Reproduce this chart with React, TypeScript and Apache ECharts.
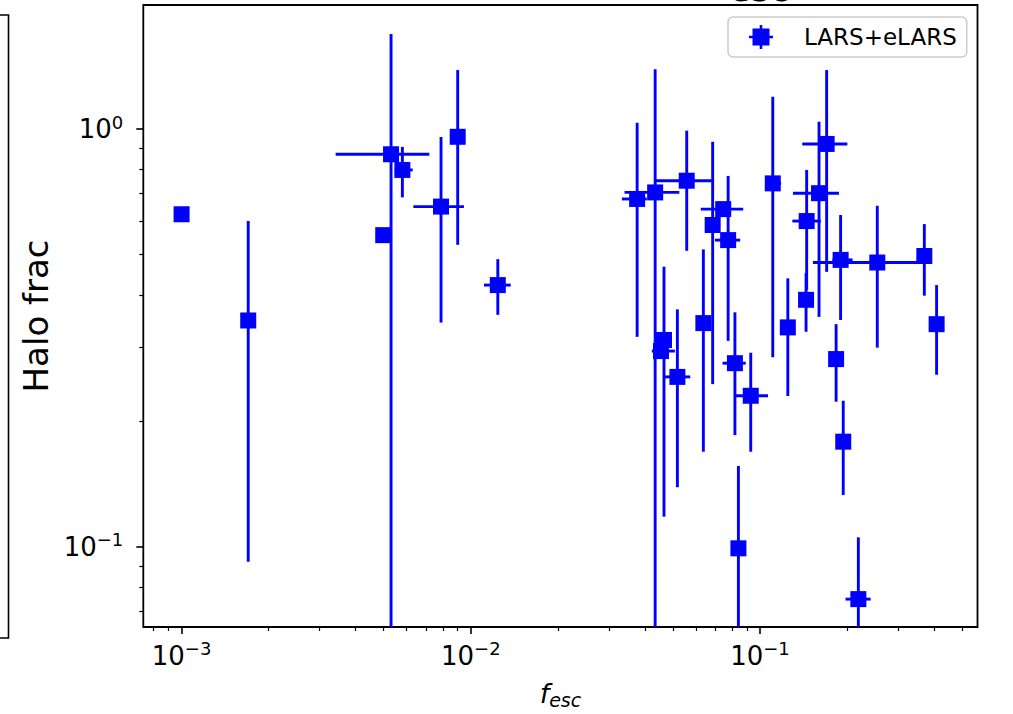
import React, { useEffect, useRef } from 'react';
import * as echarts from 'echarts';

// ---- data ----
const fesc = [
  0.001, 0.0017, 0.00498, 0.0053, 0.0058, 0.00789, 0.00901, 0.0124,
  0.0376, 0.0434, 0.0558, 0.0746, 0.0686, 0.0776, 0.1107, 0.17, 0.16,
  0.145, 0.1443, 0.19, 0.2544, 0.37, 0.408, 0.04656, 0.04546, 0.0518,
  0.0637, 0.0819, 0.0929, 0.0842, 0.1248, 0.1833, 0.194, 0.2188,
];
const haloFrac = [
  0.625, 0.348, 0.557, 0.87, 0.798, 0.652, 0.958, 0.423,
  0.68, 0.705, 0.752, 0.643, 0.589, 0.542, 0.741, 0.921, 0.702,
  0.602, 0.39, 0.486, 0.479, 0.4965, 0.341, 0.3125, 0.294, 0.255,
  0.343, 0.275, 0.2298, 0.0991, 0.335, 0.2813, 0.1784, 0.0749,
];
const fescLow = [
  null, null, null, 0.00341, 0.00546, 0.00633, null, 0.01111,
  0.0333, 0.034, 0.0434, 0.0624, 0.0646, 0.0699, 0.105, 0.14, 0.13,
  0.1294, null, 0.178, 0.1524, null, null, null, 0.04225, 0.0463,
  null, 0.0742, 0.0822, null, null, null, null, 0.1976,
];
const fescHigh = [
  null, null, null, 0.00719, 0.0063, 0.00947, null, 0.01374,
  0.0406, 0.0526, 0.0681, 0.0875, 0.0728, 0.0854, 0.1183, 0.2005, 0.1875,
  0.1622, null, 0.209, 0.366, null, null, null, 0.0508, 0.0574,
  null, 0.0893, 0.1066, null, null, null, null, 0.2413,
];
const haloLow = [
  null, 0.092, null, 0.01, 0.686, 0.344, 0.528, 0.359,
  0.318, 0.01, 0.511, null, 0.245, 0.311, 0.284, 0.455, 0.355,
  0.412, 0.327, 0.349, 0.2996, 0.399, 0.258, 0.118, null, 0.1388,
  0.1688, 0.185, 0.1688, 0.01, 0.2295, 0.2224, 0.133, 0.01,
];
const haloHigh = [
  null, 0.602, null, 1.688, 0.906, 0.957, 1.384, 0.488,
  1.035, 1.39, 0.991, null, 0.932, 0.772, 1.195, 1.384, 1.041,
  0.798, 0.452, 0.6225, 0.655, 0.592, 0.423, 0.468, null, 0.37,
  0.515, 0.364, 0.2913, 0.156, 0.439, 0.341, 0.2236, 0.1053,
];

const xMajorTicks = [0.001, 0.01, 0.1];
const xMinorTicks = [
  0.0008, 0.0009,
  0.002, 0.003, 0.004, 0.005, 0.006, 0.007, 0.008, 0.009,
  0.02, 0.03, 0.04, 0.05, 0.06, 0.07, 0.08, 0.09,
  0.2, 0.3, 0.4, 0.5,
];
const yMajorTicks = [0.1, 1];
const yMinorTicks = [0.07, 0.08, 0.09, 0.2, 0.3, 0.4, 0.5, 0.6, 0.7, 0.8, 0.9];

const X_MIN = 7.373e-4;
const X_MAX = 0.565;
const Y_MIN = 0.06423;
const Y_MAX = 1.981;

const SERIES_NAME = 'LARS+eLARS';
const BLUE = '#0000ff';
const FONT = 'DejaVu Sans';

const legendIcon =
  'path://M3.5 3.5 H10.7 V0 H13.3 V3.5 H20.5 V10.7 H24 V13.3 H20.5 V20.5 H13.3 V24 H10.7 V20.5 H3.5 V13.3 H0 V10.7 H3.5 Z';

function powLabel(v: number): string {
  const e = Math.round(Math.log10(v));
  const s = e < 0 ? '\u2212' + String(-e) : String(e);
  return '{b|10}{s|' + s + '}';
}

const tickRich = {
  b: { fontSize: 26, lineHeight: 32, fontFamily: FONT, color: '#000' },
  s: { fontSize: 18, lineHeight: 19, verticalAlign: 'top', fontFamily: FONT, color: '#000' },
};

export default function App() {
  const ref = useRef<HTMLDivElement>(null);

  useEffect(() => {
    if (!ref.current) return;
    const chart = echarts.init(ref.current, null, { renderer: 'svg' });

    const points = fesc.map((x, i) => [x, haloFrac[i]]);

    const option: any = {
      animation: false,
      backgroundColor: '#ffffff',
      textStyle: { fontFamily: FONT },
      grid: {
        left: 143.3,
        right: 35.5,
        top: 5,
        bottom: 87,
        show: true,
        borderColor: '#000',
        borderWidth: 1.8,
        containLabel: false,
        outerBoundsMode: 'none',
      },
      legend: {
        show: true,
        data: [{ name: SERIES_NAME, icon: legendIcon }],
        left: 728,
        top: 17,
        orient: 'horizontal',
        itemWidth: 24,
        itemHeight: 24,
        padding: [8, 10, 8, 21],
        backgroundColor: 'rgba(255,255,255,0.8)',
        borderColor: '#cccccc',
        borderWidth: 1.5,
        borderRadius: 5,
        selectedMode: false,
        textStyle: {
          fontSize: 23,
          fontFamily: FONT,
          color: '#000',
          padding: [0, 0, 0, 26],
        },
      },
      xAxis: [
        {
          type: 'log',
          logBase: 10,
          min: X_MIN,
          max: X_MAX,
          position: 'bottom',
          axisLine: { show: false },
          splitLine: { show: false },
          axisTick: {
            show: true,
            inside: false,
            length: 7,
            lineStyle: { color: '#000', width: 1.6 },
            customValues: xMajorTicks,
          },
          axisLabel: {
            show: true,
            margin: 12.5,
            customValues: xMajorTicks,
            formatter: (v: number) => powLabel(v),
            rich: tickRich,
          },
          name: '{i|f}{sub|esc}',
          nameLocation: 'middle',
          nameGap: 50,
          nameTextStyle: {
            rich: {
              i: { fontSize: 27, fontStyle: 'italic', lineHeight: 32, fontFamily: FONT, color: '#000' },
              sub: { fontSize: 19, fontStyle: 'italic', lineHeight: 15, verticalAlign: 'bottom', fontFamily: FONT, color: '#000' },
            },
          },
        },
        {
          type: 'log',
          logBase: 10,
          min: X_MIN,
          max: X_MAX,
          position: 'bottom',
          offset: 0,
          axisLine: { show: false },
          splitLine: { show: false },
          axisLabel: { show: false },
          axisTick: {
            show: true,
            inside: false,
            length: 4,
            lineStyle: { color: '#000', width: 1.2 },
            customValues: xMinorTicks,
          },
        },
      ],
      yAxis: [
        {
          type: 'log',
          logBase: 10,
          min: Y_MIN,
          max: Y_MAX,
          position: 'left',
          axisLine: { show: false },
          splitLine: { show: false },
          axisTick: {
            show: true,
            inside: false,
            length: 7,
            lineStyle: { color: '#000', width: 1.6 },
            customValues: yMajorTicks,
          },
          axisLabel: {
            show: true,
            margin: 20,
            customValues: yMajorTicks,
            formatter: (v: number) => powLabel(v),
            rich: tickRich,
          },
          name: 'Halo frac',
          nameLocation: 'middle',
          nameGap: 86,
          nameTextStyle: { fontSize: 34, fontFamily: FONT, color: '#000' },
        },
        {
          type: 'log',
          logBase: 10,
          min: Y_MIN,
          max: Y_MAX,
          position: 'left',
          offset: 0,
          axisLine: { show: false },
          splitLine: { show: false },
          axisLabel: { show: false },
          axisTick: {
            show: true,
            inside: false,
            length: 4,
            lineStyle: { color: '#000', width: 1.2 },
            customValues: yMinorTicks,
          },
        },
      ],
      series: [
        {
          type: 'custom',
          name: 'errors',
          xAxisIndex: 0,
          yAxisIndex: 0,
          z: 2,
          clip: true,
          data: points,
          encode: { x: 0, y: 1 },
          renderItem: (params: any, api: any) => {
            const i = params.dataIndex;
            const cs = params.coordSys;
            const top = cs.y;
            const bottom = cs.y + cs.height;
            const left = cs.x;
            const right = cs.x + cs.width;
            const style = { stroke: BLUE, lineWidth: 2.9, lineCap: 'butt' };
            const children: any[] = [];
            const lo = haloLow[i];
            const hi = haloHigh[i];
            if (lo != null && hi != null) {
              const p1 = api.coord([fesc[i], lo]);
              const p2 = api.coord([fesc[i], hi]);
              children.push({
                type: 'line',
                shape: {
                  x1: p1[0],
                  y1: Math.min(Math.max(p1[1], top), bottom),
                  x2: p2[0],
                  y2: Math.min(Math.max(p2[1], top), bottom),
                },
                style,
              });
            }
            const xl = fescLow[i];
            const xh = fescHigh[i];
            if (xl != null && xh != null) {
              const p1 = api.coord([xl, haloFrac[i]]);
              const p2 = api.coord([xh, haloFrac[i]]);
              children.push({
                type: 'line',
                shape: {
                  x1: Math.min(Math.max(p1[0], left), right),
                  y1: p1[1],
                  x2: Math.min(Math.max(p2[0], left), right),
                  y2: p2[1],
                },
                style,
              });
            }
            return { type: 'group', children };
          },
        },
        {
          type: 'scatter',
          name: SERIES_NAME,
          xAxisIndex: 0,
          yAxisIndex: 0,
          z: 3,
          symbol: 'rect',
          symbolSize: 16,
          itemStyle: { color: BLUE, opacity: 1 },
          data: points,
        },
      ],
      graphic: [
        {
          type: 'polyline',
          shape: { points: [[0, 15], [8.5, 15], [8.5, 638], [0, 638]] },
          style: { stroke: '#000', lineWidth: 1.6, fill: null },
          silent: true,
        },
        {
          type: 'text',
          x: 759,
          y: -11.5,
          style: {
            text: 'esc',
            fontSize: 36,
            fontFamily: FONT,
            fill: '#000',
            textAlign: 'center',
            textVerticalAlign: 'middle',
          },
          silent: true,
        },
      ],
    };

    chart.setOption(option);
    return () => {
      chart.dispose();
    };
  }, []);

  return (
    <div
      ref={ref}
      style={{ position: 'fixed', left: 0, top: 0, width: 1013, height: 714, background: '#fff' }}
    />
  );
}
